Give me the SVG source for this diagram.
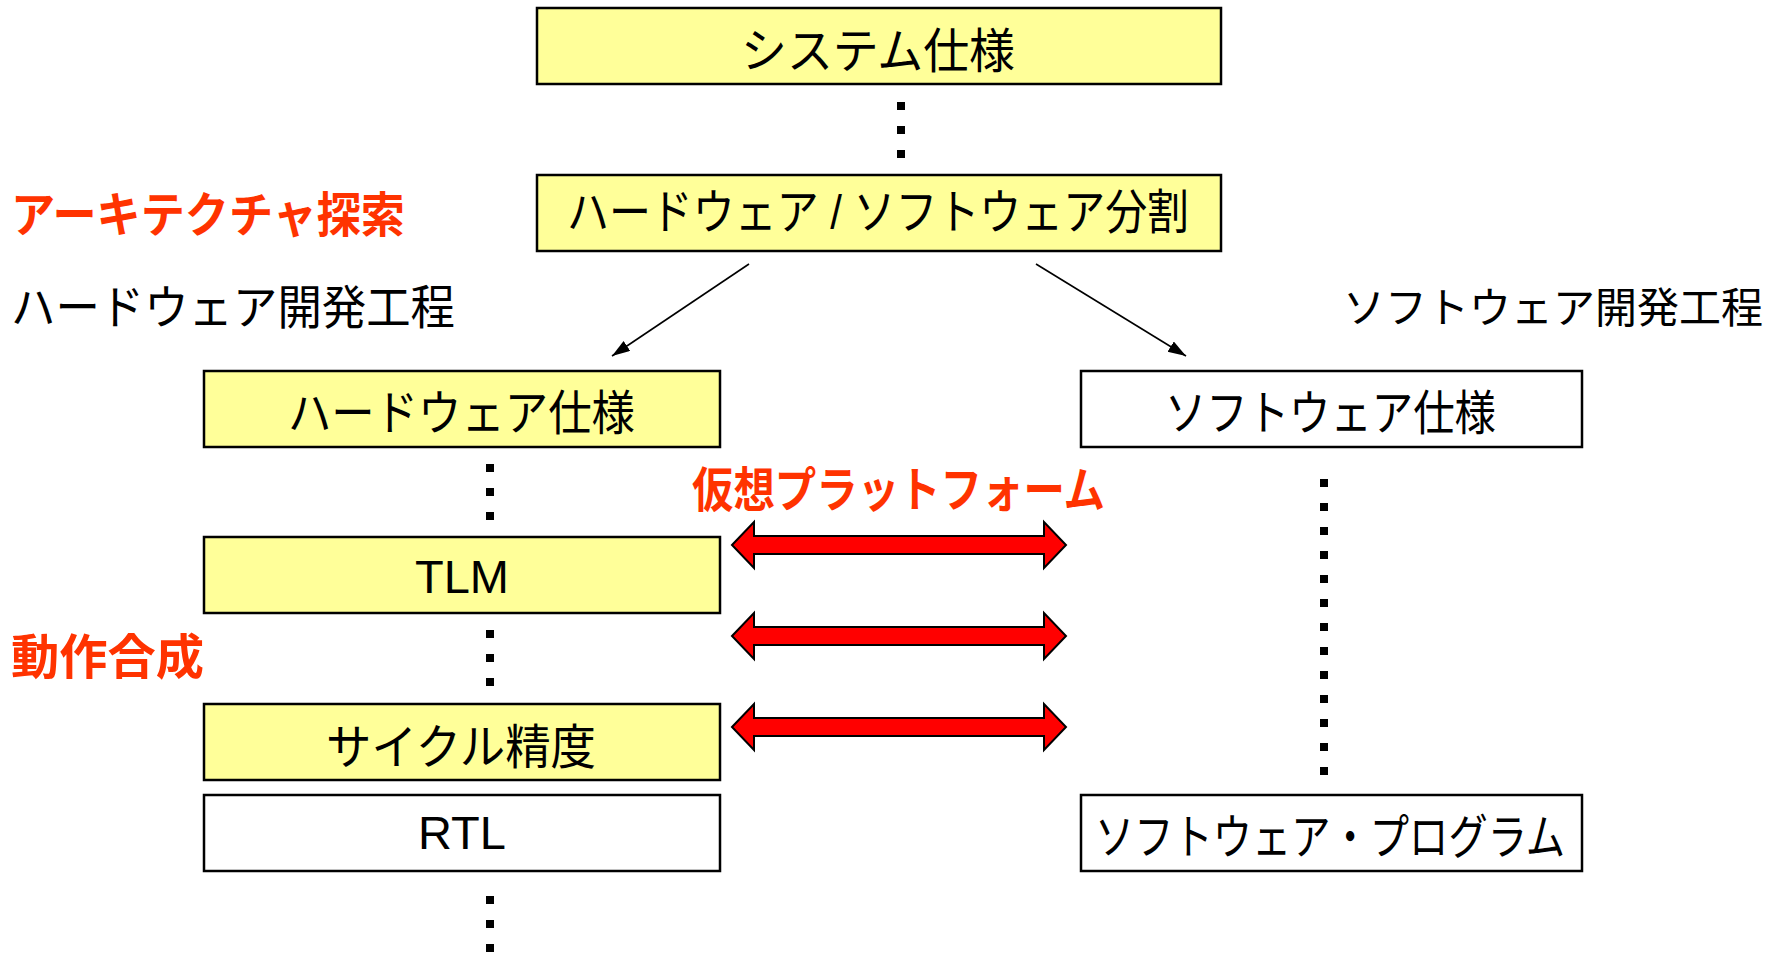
<svg xmlns="http://www.w3.org/2000/svg" width="1782" height="953" viewBox="0 0 1782 953">
<defs>
<style>
.box{stroke:#000;stroke-width:2.5}
.y{fill:#FFFF99}
.w{fill:#FFFFFF}
.t{font-family:'Liberation Sans','Noto Sans CJK JP',sans-serif;font-size:48px;fill:#000}
.lat{font-family:'Liberation Sans',Arial,sans-serif;font-size:47px;fill:#000}
.red{font-family:'Noto Sans CJK JP',sans-serif;font-size:48px;font-weight:bold;fill:#FF3300}
.lbl{font-family:'Noto Sans CJK JP',sans-serif;font-size:47px;fill:#000}
.dots{stroke:#000;stroke-width:8;stroke-dasharray:8 16;fill:none}
.conn{stroke:#000;stroke-width:1.6;fill:none}
.dbl{fill:#FF0000;stroke:#000;stroke-width:2;stroke-linejoin:miter}
</style>
<marker id="ah" markerUnits="userSpaceOnUse" markerWidth="20" markerHeight="14" refX="18" refY="6" orient="auto">
<path d="M0,0 L18,6 L0,12 z" fill="#000"/>
</marker>
</defs>
<rect width="1782" height="953" fill="#fff"/>

<g id="labels">
<text class="red" x="11" y="232" textLength="394" lengthAdjust="spacingAndGlyphs">アーキテクチャ探索</text>
<text class="lbl" x="11" y="324" textLength="444" lengthAdjust="spacingAndGlyphs">ハードウェア開発工程</text>
<text class="lbl" x="1343" y="323" style="font-size:42px">ソフトウェア開発工程</text>
<text class="red" x="692" y="507" textLength="413" lengthAdjust="spacingAndGlyphs">仮想プラットフォーム</text>
<text class="red" x="11" y="674" textLength="193" lengthAdjust="spacingAndGlyphs">動作合成</text>
</g>

<g id="system-spec">
<rect class="box y" x="537" y="8" width="684" height="76"/>
<text class="t" x="741" y="68" textLength="274" lengthAdjust="spacingAndGlyphs">システム仕様</text>
</g>
<g id="hw-sw-partition">
<rect class="box y" x="537" y="175" width="684" height="76"/>
<text class="t" x="567" y="229" textLength="622" lengthAdjust="spacingAndGlyphs">ハードウェア / ソフトウェア分割</text>
</g>
<g id="hw-spec">
<rect class="box y" x="204" y="371" width="516" height="76"/>
<text class="t" x="288" y="430" textLength="347" lengthAdjust="spacingAndGlyphs">ハードウェア仕様</text>
</g>
<g id="tlm">
<rect class="box y" x="204" y="537" width="516" height="76"/>
<text class="lat" x="462" y="593" text-anchor="middle">TLM</text>
</g>
<g id="cycle-accurate">
<rect class="box y" x="204" y="704" width="516" height="76"/>
<text class="t" x="326" y="764" textLength="270" lengthAdjust="spacingAndGlyphs">サイクル精度</text>
</g>
<g id="rtl">
<rect class="box w" x="204" y="795" width="516" height="76"/>
<text class="lat" x="462" y="849" text-anchor="middle">RTL</text>
</g>
<g id="sw-spec">
<rect class="box w" x="1081" y="371" width="501" height="76"/>
<text class="t" x="1165" y="430" textLength="331" lengthAdjust="spacingAndGlyphs">ソフトウェア仕様</text>
</g>
<g id="sw-program">
<rect class="box w" x="1081" y="795" width="501" height="76"/>
<text class="t" x="1095" y="854" textLength="470" lengthAdjust="spacingAndGlyphs">ソフトウェア・プログラム</text>
</g>

<g id="connectors">
<line class="dots" x1="901" y1="102" x2="901" y2="158"/>
<line class="dots" x1="490" y1="464" x2="490" y2="520"/>
<line class="dots" x1="490" y1="630" x2="490" y2="686"/>
<line class="dots" x1="490" y1="896" x2="490" y2="953"/>
<line class="dots" x1="1324" y1="479" x2="1324" y2="775"/>
<line class="conn" x1="749" y1="264" x2="612" y2="356" marker-end="url(#ah)"/>
<line class="conn" x1="1036" y1="264" x2="1186" y2="356" marker-end="url(#ah)"/>
<polygon class="dbl" points="732,545 754,522 754,536 1044,536 1044,522 1066,545 1044,568 1044,554 754,554 754,568"/>
<polygon class="dbl" points="732,636 754,613 754,627 1044,627 1044,613 1066,636 1044,659 1044,645 754,645 754,659"/>
<polygon class="dbl" points="732,727 754,704 754,718 1044,718 1044,704 1066,727 1044,750 1044,736 754,736 754,750"/>
</g>
</svg>
